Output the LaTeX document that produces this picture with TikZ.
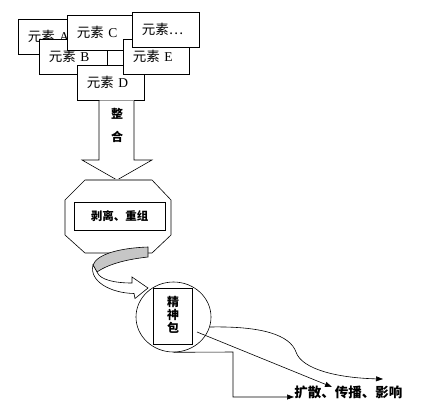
\documentclass[tikz,border=0pt]{standalone}
\usepackage{fontspec}
\setmainfont{Liberation Serif}
\newfontfamily\cjk{Noto Sans CJK SC}
\usetikzlibrary{arrows.meta,shapes.geometric}
\tikzset{
  elbox/.style={draw, fill=white, anchor=north west, text width=48pt, inner xsep=9.5pt, inner ysep=0pt,
    minimum height=35pt, align=left, font=\fontsize{13.5}{15}\selectfont},
  bold/.style={font=\cjk\bfseries\fontsize{12}{14}\selectfont, inner sep=0pt, align=center},
  shapeline/.style={draw, fill=white, line width=0.6pt},
  shade/.style={draw=gray!80, line width=1.6pt},
  arr/.style={line width=0.6pt, -{Triangle[length=7pt,width=5pt]}},
}
\begin{document}
\begin{tikzpicture}[x=1pt,y=-1pt, line width=0.6pt]
\useasboundingbox (0,0) rectangle (433,418);
% element boxes
\node[elbox] (A) at (18,19) {{\cjk 元素} A};
\node[elbox, text width=49pt] (B) at (39,39) {{\cjk 元素} B};
\node[elbox] (C) at (67,15) {{\cjk 元素} C};
\node[elbox] (D) at (77,65) {{\cjk 元素} D};
\node[elbox, text width=47pt] (E) at (123,39) {{\cjk 元素} E};
\node[elbox] (F) at (132,12) {{\cjk 元素…}};
% block arrow
\path[shapeline] (99,100.5) -- (99,160) -- (82,160) -- (117,180) -- (152,160) -- (134,160) -- (134,100.5);
\draw[shade] (99.5,100.5) -- (133.5,100.5);
\node[bold] (zh) at (117,125.5) {整\\[9pt]合};
% octagon
\path[shapeline] (85,180) -- (152,180) -- (171,200) -- (171,235) -- (152,253) -- (85,253) -- (65,235) -- (65,200) -- cycle;
\draw[shade] (86,180) -- (151,180);
\node[draw, minimum width=91pt, minimum height=28pt, inner sep=0pt, bold, font=\cjk\bfseries\fontsize{11.5}{14}\selectfont] (strip) at (119.5,216) {剥离、重组};
% curved ribbon arrow
\path[draw, fill=gray!45] (148,247) .. controls (120,248) and (97,254) .. (93,265)
  -- (97,272) .. controls (110,263) and (130,259) .. (148,257) -- cycle;
\path[draw, fill=white] (93,265) .. controls (89,281) and (110,293) .. (134,293.5)
  -- (135,298.5) -- (148,288) -- (132,277) -- (132,283)
  .. controls (115,283) and (100,280) .. (97,272) -- cycle;
% circle
\node[draw, ellipse, minimum width=75pt, minimum height=70pt, inner sep=0pt] (circ) at (173.5,317) {};
\node[draw, minimum width=39pt, minimum height=56pt, inner sep=0pt] (inner) at (172.5,316.5) {};
\node[bold, font=\cjk\bfseries\fontsize{12}{12.8}\selectfont] (spirit) at (173,315) {精\\神\\包};
% output text
\node[anchor=base west, inner sep=0pt, font=\cjk\bfseries\fontsize{13.5}{15}\selectfont] (out) at (294,397) {扩散、传播、影响};
% connectors
\coordinate (s1) at (197,332);
\coordinate (s1end) at (332,387);
\coordinate (c1) at (210,327);
\coordinate (c1end) at (383,379);
\draw[arr] (circ.south) -- (233,352) -- (233,397) -- (out.base west);
\draw[arr] (s1) -- (s1end);
\draw[arr] (c1) .. controls (262,326) and (290,335) .. (296,352) .. controls (302,370) and (340,378) .. (c1end);
\end{tikzpicture}
\end{document}
